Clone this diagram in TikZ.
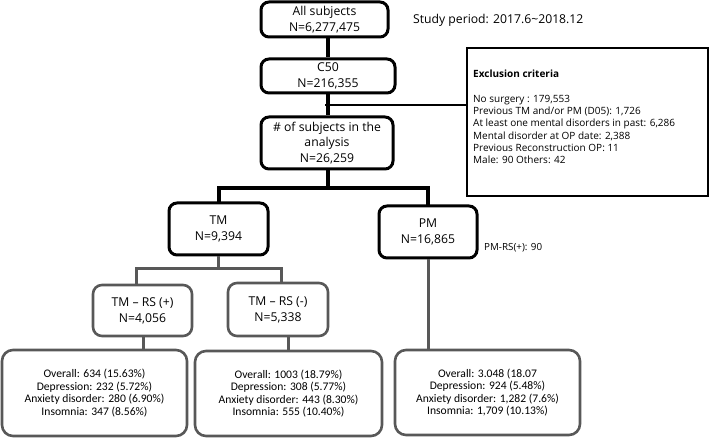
\documentclass[tikz,border=0pt]{standalone}
\usepackage{fontspec}
\setmainfont{Open Sans}
\newfontfamily\carl{Carlito}
\definecolor{linegray}{RGB}{88,88,88}
\begin{document}
\begin{tikzpicture}[x=1pt,y=-1pt,
  blackbox/.style={draw=black, line width=3pt, rounded corners=8pt, align=center, inner sep=0pt, font=\fontsize{12.2}{15.5}\selectfont},
  rsbox/.style={draw=linegray, line width=2.6pt, rounded corners=9pt, align=center, inner sep=0pt, font=\fontsize{12.2}{16}\selectfont},
  resbox/.style={draw=linegray, line width=2.6pt, rounded corners=11pt, align=center, inner sep=0pt, font=\carl\fontsize{11.6}{12.4}\selectfont},
  blackline/.style={draw=black, line width=4pt},
  grayline/.style={draw=linegray, line width=3pt},
  thinline/.style={draw=black, line width=1.3pt},
  smalltext/.style={inner sep=0pt, anchor=west}
]
\useasboundingbox[fill=white] (0,0) rectangle (710,438);

% top column
\node[blackbox, minimum width=127pt, minimum height=35pt] (all) at (324.5,19.5) {All subjects\\N=6,277,475};
\node[blackbox, minimum width=134pt, minimum height=34pt] (c50) at (328,76) {C50\\N=216,355};
\node[blackbox, minimum width=132pt, minimum height=52pt] (ana) at (327,143) {\# of subjects in the\\analysis\\N=26,259};
\coordinate (spine) at (328,0);

\node[smalltext, font=\fontsize{12.2}{14}\selectfont] (period) at (413,20) {Study period: 2017.6\textasciitilde2018.12};

% exclusion box
\node[draw=black, line width=1.3pt, minimum width=241pt, minimum height=148pt, inner sep=0pt] (excl) at (587.5,122) {};
\node[smalltext, align=left, font=\fontsize{10}{12.3}\selectfont] (excltxt) at (473,117)
  {\textbf{Exclusion criteria}\\[12.3pt]
   No surgery : 179,553\\
   Previous TM and/or PM (D05): 1,726\\
   At least one mental disorders in past: 6,286\\
   Mental disorder at OP date: 2,388\\
   Previous Reconstruction OP: 11\\
   Male: 90 Others: 42};
\coordinate (exclstart) at (325,105);

% TM / PM
\node[blackbox, minimum width=99pt, minimum height=52pt] (tm) at (218.5,229) {TM\\N=9,394};
\node[blackbox, minimum width=98pt, minimum height=52pt] (pm) at (428,232) {PM\\N=16,865};
\node[smalltext, font=\fontsize{9.8}{11}\selectfont] (pmrs) at (484,248) {PM-RS(+): 90};

% TM-RS boxes
\node[rsbox, minimum width=99pt, minimum height=51pt] (rsp) at (142.5,310.5) {TM -- RS (+)\\N=4,056};
\node[rsbox, minimum width=100pt, minimum height=53pt] (rsm) at (278,309.5) {TM -- RS (-)\\N=5,338};

% result boxes
\node[resbox, minimum width=185pt, minimum height=86pt] (resa) at (94.5,393) {Overall: 634 (15.63\%)\\Depression: 232 (5.72\%)\\Anxiety disorder: 280 (6.90\%)\\Insomnia: 347 (8.56\%)};
\node[resbox, minimum width=187pt, minimum height=85pt] (resb) at (288.5,393.5) {Overall: 1003 (18.79\%)\\Depression: 308 (5.77\%)\\Anxiety disorder: 443 (8.30\%)\\Insomnia: 555 (10.40\%)};
\node[resbox, minimum width=185pt, minimum height=85pt] (resc) at (487.5,392.5) {Overall: 3.048 (18.07\\Depression: 924 (5.48\%)\\Anxiety disorder: 1,282 (7.6\%)\\Insomnia: 1,709 (10.13\%)};

% connectors (black)
\draw[blackline] (all.south -| spine) -- (c50.north -| spine);
\draw[blackline] (c50.south -| spine) -- (ana.north -| spine);
\draw[thinline] (exclstart) -- (exclstart -| excl.west);
\coordinate (bar) at (0,188);
\draw[blackline] (ana.south -| spine) -- (bar -| spine);
\draw[blackline, line cap=rect] (tm.north) -- (tm.north |- bar) -- (pm.north |- bar) -- (pm.north);

% connectors (gray)
\coordinate (tmsplit) at (0,269);
\coordinate (rspx) at (136,0);
\coordinate (rsmx) at (281,0);
\draw[grayline] (tm.south) -- (tm.south |- tmsplit);
\draw[grayline, line cap=rect] (rspx |- rsp.north) -- (rspx |- tmsplit) -- (rsmx |- tmsplit) -- (rsmx |- rsm.north);
\coordinate (resax) at (143,0);
\draw[grayline] (resax |- rsp.south) -- (resax |- resa.north);
\draw[grayline] (resb.north |- rsm.south) -- (resb.north);
\draw[grayline] (pm.south) -- (pm.south |- resc.north);
\end{tikzpicture}
\end{document}
